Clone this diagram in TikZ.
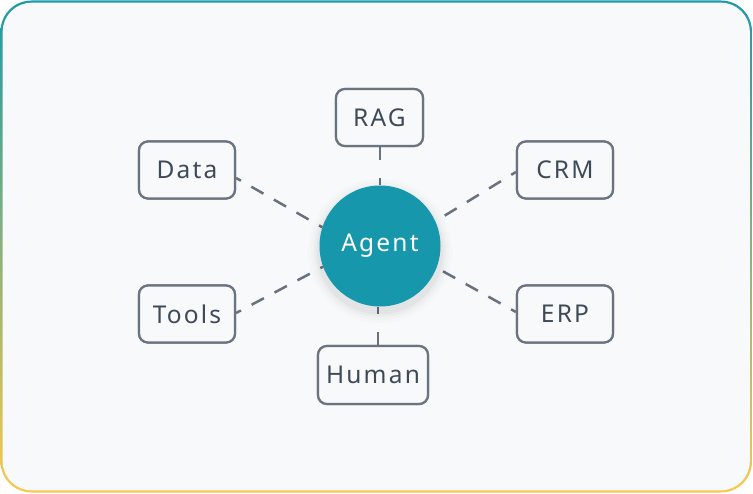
\documentclass[tikz,border=0pt]{standalone}
\usepackage{fontspec}
\setmainfont{Noto Sans}[LetterSpace=9]
\usetikzlibrary{calc}
\definecolor{frameTop}{HTML}{1D9AA8}
\definecolor{frameBot}{HTML}{F8C94E}
\definecolor{bgC}{HTML}{F7F9FB}
\definecolor{boxC}{HTML}{6A7480}
\definecolor{lineC}{HTML}{68727E}
\definecolor{txtC}{HTML}{3E4A58}
\definecolor{agentC}{HTML}{1797AB}
\begin{document}
\begin{tikzpicture}[x=1pt,y=-1pt,
  lbl/.style={font=\fontsize{24.5}{28}\selectfont, text=txtC},
  tag/.style={lbl, rectangle, draw=boxC, fill=bgC, line width=2.2pt, rounded corners=9pt, inner sep=0pt, minimum height=57pt},
  conn/.style={draw=lineC, line width=2.5pt, dash pattern=on 14pt off 12pt, dash phase=8.5pt},
  vconn/.style={draw=lineC, line width=2.5pt, dash pattern=on 13pt off 18pt},
  hub/.style={circle, fill=agentC, minimum size=121pt, inner sep=0pt, font=\fontsize{24.5}{28}\selectfont, text=white}
]
\useasboundingbox (0,0) rectangle (753,494);
% frame with gradient border
\shade[top color=frameTop, bottom color=frameBot, rounded corners=31pt] (0.5,0.5) rectangle (752,492.5);
\fill[bgC, rounded corners=29pt] (2.7,2.7) rectangle (749.8,490.3);

% nodes
\node[tag, minimum width=87pt] (rag) at (379.5,117.5) {RAG};
\node[tag, minimum width=96pt] (data) at (187,170) {Data};
\node[tag, minimum width=96pt] (crm) at (565,170) {CRM};
\node[tag, minimum width=96pt] (tools) at (187,314) {Tools};
\node[tag, minimum width=96pt] (erp) at (565,314) {ERP};
\node[tag, minimum width=110pt, minimum height=58pt] (human) at (373,375) {Human};

% hub geometry (drawn later on top)
\coordinate (c) at (380,246);
\path (c) node[hub, fill=none] (agent) {};

% connectors
\draw[vconn] (rag.south -| c) -- (agent.north);
\draw[vconn] ($(human.north)+(5,0)$) -- ($(agent.south)+(-2,0)$);
\draw[conn] ($(data.east)+(0,8)$) -- (agent.162);
\draw[conn] ($(tools.east)+(0,-1)$) -- (agent.200);
\draw[conn] ($(crm.west)+(0,2)$) -- (agent.24);
\draw[conn] ($(erp.west)+(0,-2)$) -- (agent.-21);

% redraw boxes on top of line ends
\node[tag, minimum width=87pt] at (rag) {RAG};
\node[tag, minimum width=96pt] at (data) {Data};
\node[tag, minimum width=96pt] at (crm) {CRM};
\node[tag, minimum width=96pt] at (tools) {Tools};
\node[tag, minimum width=96pt] at (erp) {ERP};
\node[tag, minimum width=110pt, minimum height=58pt] at (human) {Human};

% shadow
\foreach \r/\o in {72/0.012, 69/0.016, 66/0.022, 63.5/0.03}{
  \fill[black, opacity=\o] ($(c)+(0,5)$) circle (\r pt);
}
\node[hub] at (c) {Agent};
\end{tikzpicture}
\end{document}
